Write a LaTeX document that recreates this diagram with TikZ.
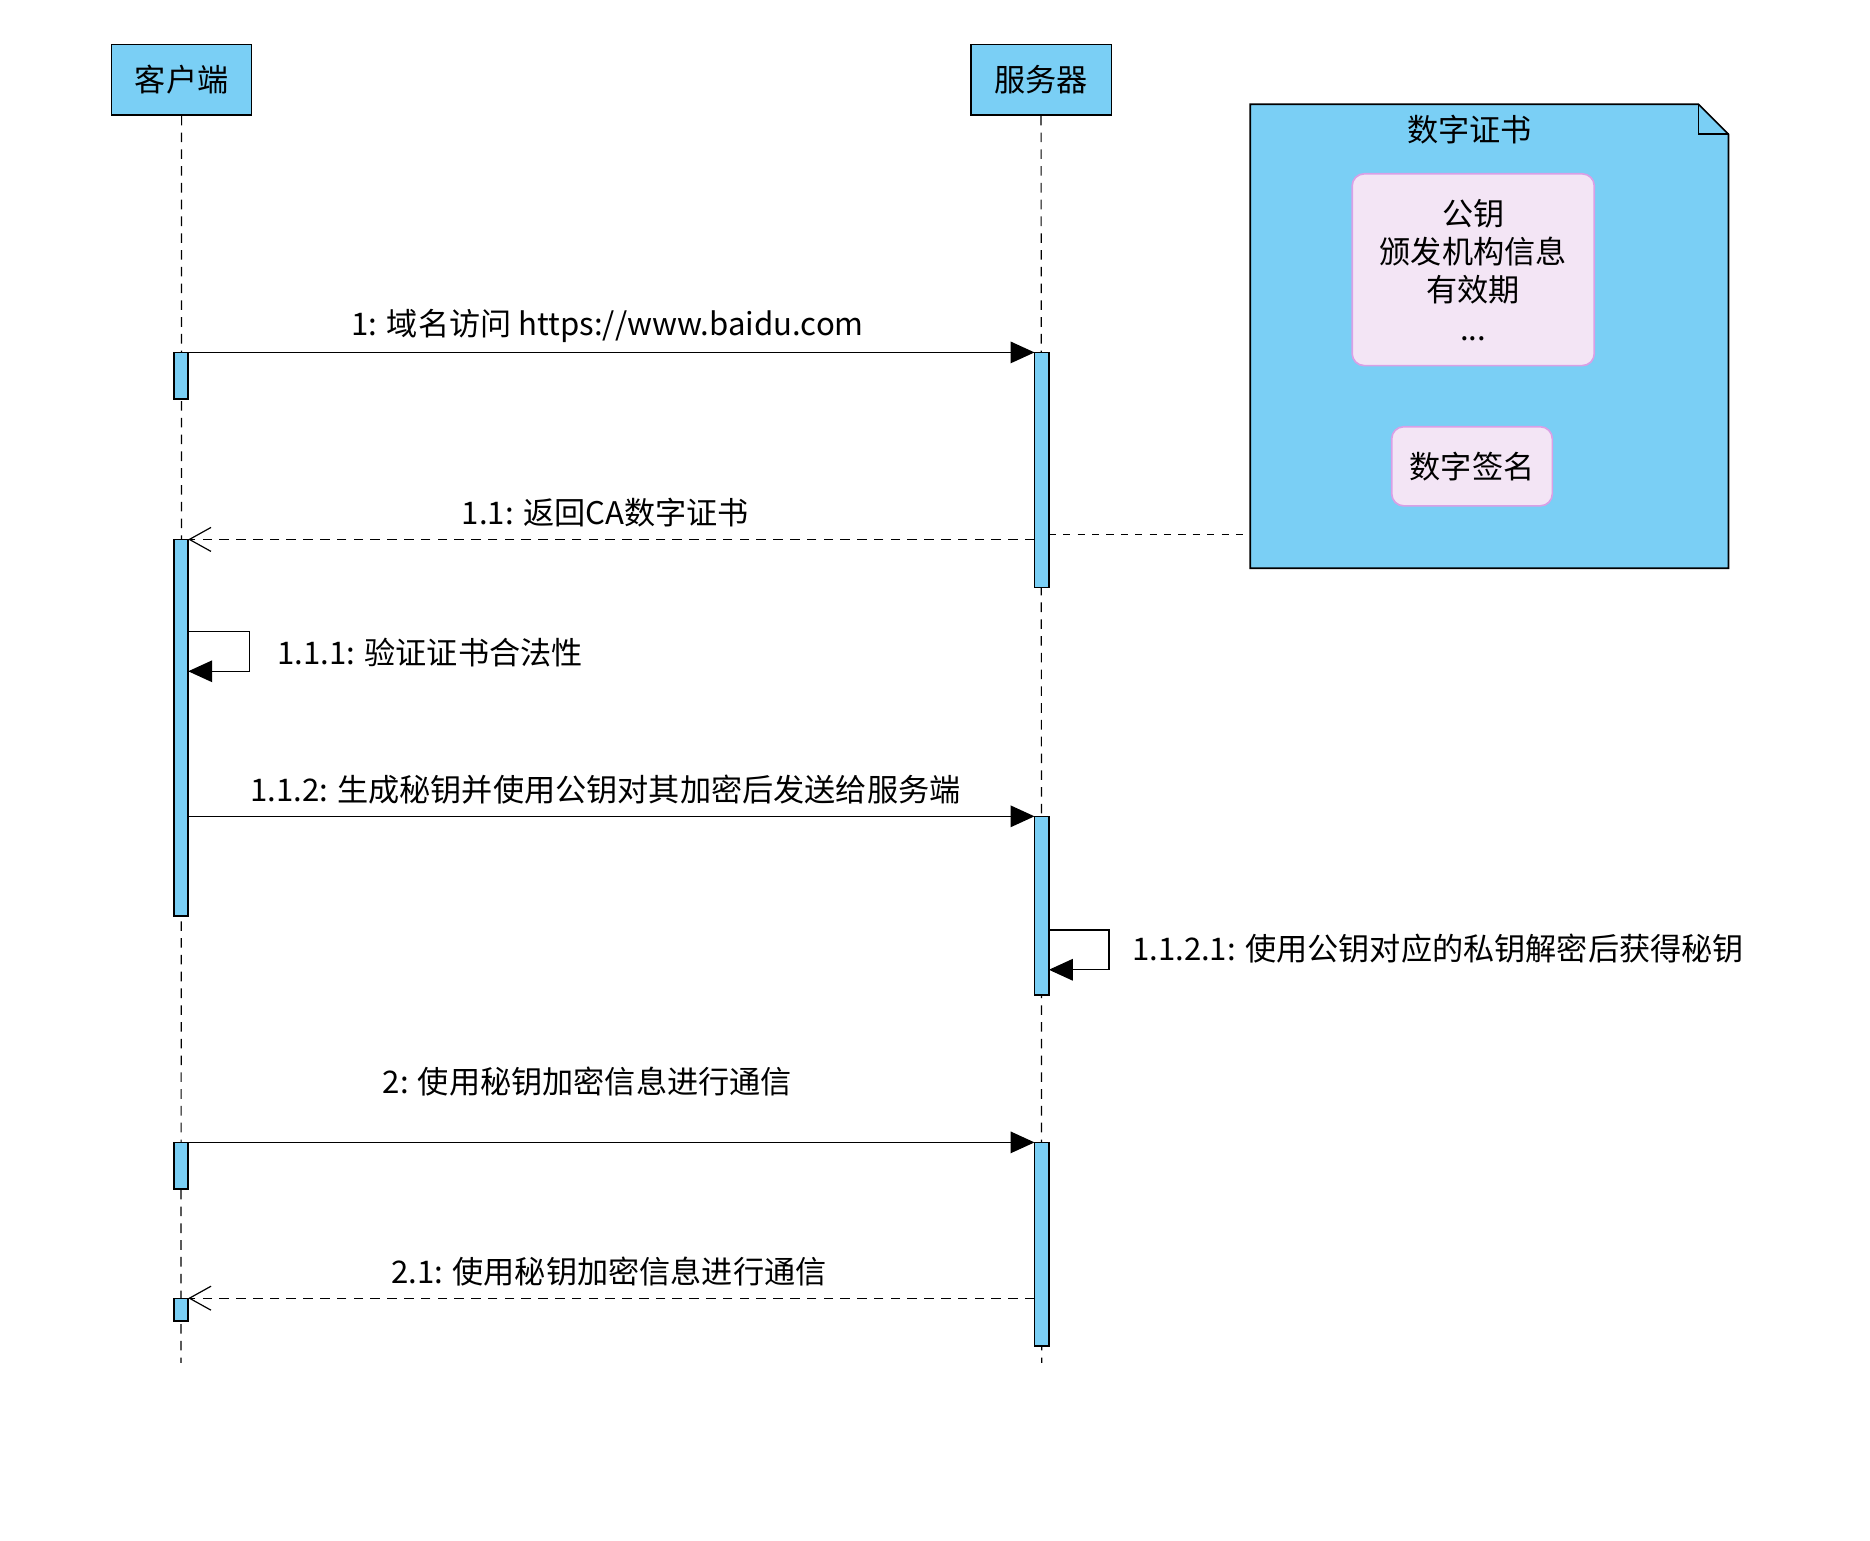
\documentclass[tikz,border=0pt]{standalone}
\usepackage{fontspec}
\setmainfont{Noto Sans CJK SC}
\usetikzlibrary{arrows.meta}
\definecolor{lb}{HTML}{7ACFF5}
\definecolor{lp}{HTML}{F3E5F5}
\definecolor{pb}{HTML}{D9A0E6}
\begin{document}
\begin{tikzpicture}[x=0.5pt,y=-0.5pt,
  actor/.style={draw,fill=lb,minimum width=58.5pt,minimum height=29.5pt,inner sep=0pt,line width=0.6pt,font=\fontsize{13}{15}\selectfont},
  life/.style={line width=0.5pt,dash pattern=on 4pt off 3pt},
  act/.style={draw,fill=lb,line width=0.6pt},
  msg/.style={line width=0.6pt,-{Triangle[length=10pt,width=9pt]}},
  ret/.style={line width=0.6pt,dash pattern=on 4pt off 3pt,-{Straight Barb[length=9pt,width=10pt,line width=0.5pt]}},
  lbl/.style={font=\fontsize{13}{15}\selectfont,inner sep=0pt},
  inbox/.style={draw=pb,fill=lp,rounded corners=5pt,line width=0.7pt,align=center,font=\fontsize{13}{16}\selectfont}]
\useasboundingbox (0,0) rectangle (1560,1285);
% actors
\node[actor] (c) at (151.5,66.5) {客户端};
\node[actor] (s) at (868.5,66.5) {服务器};
\coordinate (ce) at (151,1137);
\coordinate (se) at (869,1137);
\draw[life] (c.south) -- (ce);
\draw[life] (s.south) -- (se);
% note
\draw[fill=lb,line width=0.7pt] (1043,87) -- (1417,87) -- (1442,112) -- (1442,474) -- (1043,474) -- cycle;
\draw[line width=0.7pt] (1417,87) -- (1417,112) -- (1442,112);
\node[lbl] (nt) at (1226,108) {数字证书};
\node[inbox,minimum width=101pt,minimum height=80pt] (ib) at (1229,225) {公钥\\颁发机构信息\\有效期\\...};
\node[inbox,minimum width=67pt,minimum height=33pt] (sig) at (1228,389) {数字签名};
% activations
\draw[act] (145,294) rectangle (157,333);
\draw[act] (863,294) rectangle (875,490);
\draw[act] (145,450) rectangle (157,764);
\draw[act] (863,681) rectangle (875,830);
\draw[act] (145,953) rectangle (157,992);
\draw[act] (863,953) rectangle (875,1123);
\draw[act] (145,1083) rectangle (157,1102);
% messages
\coordinate (a1) at (151,294); \coordinate (b1) at (863,294);
\draw[msg] (a1) -- (b1);
\node[lbl] at (507,272) {1: 域名访问 https://www.baidu.com};
\coordinate (a2) at (863,450); \coordinate (b2) at (157,450);
\draw[ret] (a2) -- (b2);
\node[lbl] at (505,428) {1.1: 返回CA数字证书};
\coordinate (n1) at (875,446); \coordinate (n2) at (1043,446);
\draw[line width=0.5pt,dash pattern=on 3pt off 3pt] (n1) -- (n2);
\coordinate (a3) at (157,527); \coordinate (b3) at (157,560);
\draw[msg] (a3) -- (208,527) -- (208,560) -- (b3);
\node[lbl,anchor=west] at (231,544) {1.1.1: 验证证书合法性};
\coordinate (a4) at (157,681); \coordinate (b4) at (863,681);
\draw[msg] (a4) -- (b4);
\node[lbl] at (505,659) {1.1.2: 生成秘钥并使用公钥对其加密后发送给服务端};
\coordinate (a5) at (875,776); \coordinate (b5) at (875,809);
\draw[msg] (a5) -- (925,776) -- (925,809) -- (b5);
\node[lbl,anchor=west] at (944,791) {1.1.2.1: 使用公钥对应的私钥解密后获得秘钥};
\coordinate (a6) at (151,953); \coordinate (b6) at (863,953);
\draw[msg] (a6) -- (b6);
\node[lbl] at (490,902) {2: 使用秘钥加密信息进行通信};
\coordinate (a7) at (863,1083); \coordinate (b7) at (157,1083);
\draw[ret] (a7) -- (b7);
\node[lbl] at (508,1061) {2.1: 使用秘钥加密信息进行通信};
\end{tikzpicture}
\end{document}
